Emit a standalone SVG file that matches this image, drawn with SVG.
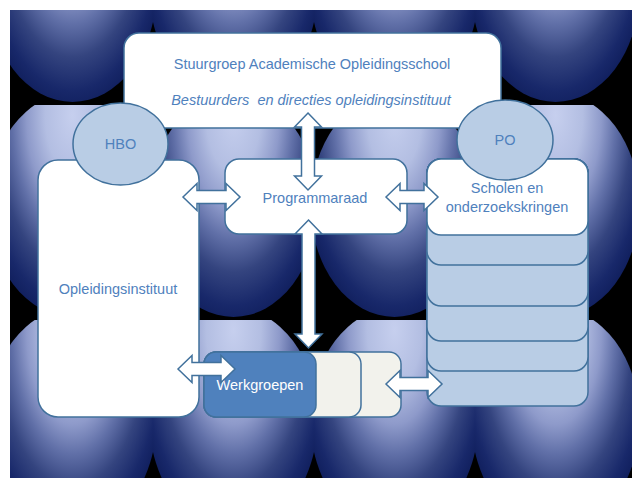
<svg xmlns="http://www.w3.org/2000/svg" width="640" height="487" viewBox="0 0 640 487">
<defs>
<style>
.box{fill:#ffffff;stroke:#41719c;stroke-width:1.5}
.tab{fill:#b9cde5;stroke:#41719c;stroke-width:1.5}
.oval{fill:#b9cde5;stroke:#41719c;stroke-width:1.5}
.card{fill:#f2f2ec;stroke:#41719c;stroke-width:1.5}
.front{fill:#4f81bd;stroke:#41719c;stroke-width:1.5}
.arrow{fill:#ffffff;stroke:#41719c;stroke-width:1.5;stroke-linejoin:miter}
.t{font-family:"Liberation Sans",Arial,sans-serif;font-size:14.5px;fill:#4f81bd;text-anchor:middle;dominant-baseline:central}
.w{fill:#ffffff}
.i{font-style:italic}
</style>
<radialGradient id="sph" cx="0.5" cy="0.1" r="1" gradientTransform="translate(0.5,0.1) scale(0.65,1) translate(-0.5,-0.1)">
<stop offset="0" stop-color="#c6cfee"/>
<stop offset="0.25" stop-color="#b3bee2"/>
<stop offset="0.42" stop-color="#8e9aca"/>
<stop offset="0.55" stop-color="#6170a8"/>
<stop offset="0.7" stop-color="#34447f"/>
<stop offset="0.85" stop-color="#18286a"/>
<stop offset="1" stop-color="#0b1955"/>
</radialGradient>
<clipPath id="tc"><rect x="0" y="0" width="161" height="215"/></clipPath>
<clipPath id="bgc"><rect x="10" y="10" width="622" height="468"/></clipPath>
<g id="tile" clip-path="url(#tc)"><ellipse cx="80.5" cy="100" rx="84" ry="112" fill="url(#sph)"/></g>
</defs>

<g id="background" clip-path="url(#bgc)">
<rect x="10" y="10" width="622" height="468" fill="#000000"/>
<use href="#tile" x="-8" y="-110"/>
<use href="#tile" x="153" y="-110"/>
<use href="#tile" x="314" y="-110"/>
<use href="#tile" x="475" y="-110"/>
<use href="#tile" x="-8" y="105"/>
<use href="#tile" x="153" y="105"/>
<use href="#tile" x="314" y="105"/>
<use href="#tile" x="475" y="105"/>
<use href="#tile" x="-8" y="320"/>
<use href="#tile" x="153" y="320"/>
<use href="#tile" x="314" y="320"/>
<use href="#tile" x="475" y="320"/>
</g>

<g id="stuurgroep">
<rect class="box" x="124" y="33" width="377" height="95" rx="15"/>
<text class="t" x="312" y="64">Stuurgroep Academische Opleidingsschool</text>
<text class="t i" x="311" y="100" xml:space="preserve">Bestuurders  en directies opleidingsinstituut</text>
</g>

<g id="opleidingsinstituut">
<rect class="box" x="38" y="160" width="161" height="257" rx="20"/>
<text class="t" x="118" y="289">Opleidingsinstituut</text>
</g>

<g id="hbo">
<ellipse class="oval" cx="120.5" cy="144" rx="47.5" ry="41"/>
<text class="t" x="120.5" y="144">HBO</text>
</g>

<g id="programmaraad">
<rect class="box" x="225" y="159" width="182" height="75" rx="14"/>
<text class="t" x="315" y="198">Programmaraad</text>
</g>

<g id="scholen">
<rect class="tab" x="427" y="159" width="161" height="247" rx="14"/>
<rect class="tab" x="427" y="159" width="161" height="212" rx="14"/>
<rect class="tab" x="427" y="159" width="161" height="182" rx="14"/>
<rect class="tab" x="427" y="159" width="161" height="147" rx="14"/>
<rect class="tab" x="427" y="159" width="161" height="106" rx="14"/>
<rect class="box" x="427" y="159" width="161" height="76" rx="14"/>
<text class="t" x="507" y="188">Scholen en</text>
<text class="t" x="507" y="207">onderzoekskringen</text>
</g>

<g id="po">
<ellipse class="oval" cx="505" cy="140" rx="48" ry="40"/>
<text class="t" x="505" y="140">PO</text>
</g>

<g id="werkgroepen">
<rect class="card" x="204" y="352" width="197" height="65" rx="12"/>
<rect class="card" x="204" y="352" width="157" height="65" rx="12"/>
<rect class="front" x="204" y="352" width="112" height="65" rx="12"/>
<text class="t w" x="260" y="385">Werkgroepen</text>
</g>

<g id="connectors">
<path class="arrow" d="M308,113 L321.5,127 L314.5,127 L314.5,176 L321.5,176 L308,190 L294.5,176 L301.5,176 L301.5,127 L294.5,127 Z"/>
<path class="arrow" d="M308.5,220 L322,234 L315,234 L315,334 L322,334 L308.5,348 L295,334 L302,334 L302,234 L295,234 Z"/>
<path class="arrow" d="M183,197 L197,183.5 L197,190.5 L226,190.5 L226,183.5 L240,197 L226,210.5 L226,203.5 L197,203.5 L197,210.5 Z"/>
<path class="arrow" d="M386,197 L400,183.5 L400,190.5 L424,190.5 L424,183.5 L438,197 L424,210.5 L424,203.5 L400,203.5 L400,210.5 Z"/>
<path class="arrow" d="M178,369 L192,355.5 L192,362.5 L221,362.5 L221,355.5 L235,369 L221,382.5 L221,375.5 L192,375.5 L192,382.5 Z"/>
<path class="arrow" d="M386,384 L400,370.5 L400,377.5 L428,377.5 L428,370.5 L442,384 L428,397.5 L428,390.5 L400,390.5 L400,397.5 Z"/>
</g>
</svg>
